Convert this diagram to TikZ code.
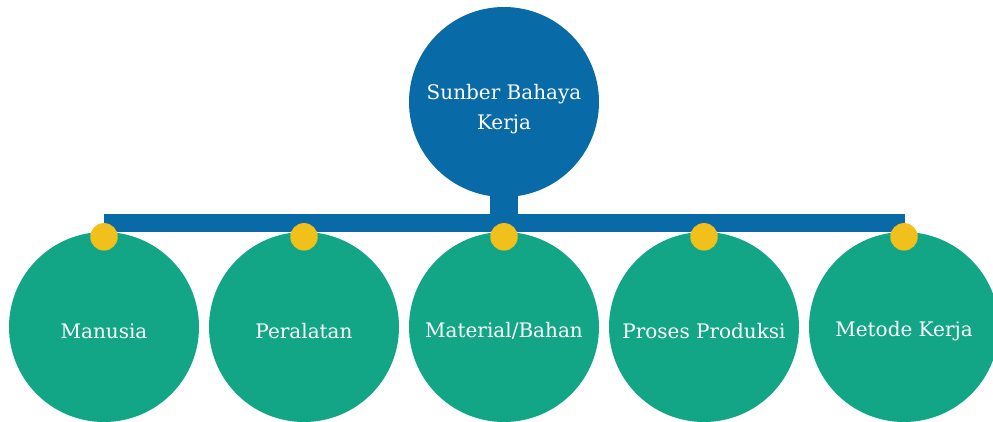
\documentclass[tikz,border=0pt]{standalone}
\usepackage{fontspec}
\setmainfont{DejaVu Serif}
\definecolor{hazardblue}{RGB}{8,106,167}
\definecolor{sourcegreen}{RGB}{18,166,135}
\definecolor{pinyellow}{RGB}{242,192,27}
\tikzset{
  disc/.style={circle, minimum size=190pt, inner sep=0pt},
  hub/.style={disc, fill=hazardblue},
  source/.style={disc, fill=sourcegreen},
  caption/.style={text=white, align=center, inner sep=0pt,
    font=\fontsize{20}{29.5}\selectfont},
  pin/.style={circle, fill=pinyellow, minimum size=27.5pt, inner sep=0pt},
  rail/.style={draw=hazardblue, line width=18pt, line cap=butt},
  stem/.style={draw=hazardblue, line width=28pt, line cap=butt}
}
\begin{document}
\begin{tikzpicture}[x=1pt, y=-1pt]
  \useasboundingbox (0,0) rectangle (993,421);
  \node[hub] (top) at (504,102) {};
  \node[source] (c1) at (104,327) {};
  \node[source] (c2) at (304,327) {};
  \node[source] (c3) at (504,327) {};
  \node[source] (c4) at (704,327) {};
  \node[source] (c5) at (904,327) {};
  % horizontal rail joining the five sources, fed by the hub's stem
  \coordinate (railL) at (104,223);
  \coordinate (railR) at (905,223);
  \draw[rail] (railL) -- (railR);
  \draw[stem] ([yshift=3pt]top.south) -- (top.south |- railL);
  % yellow pins where each source hangs from the rail
  \foreach \i in {1,...,5} {
    \node[pin] (p\i) at ([yshift=-5pt]c\i.north) {};
  }
  % captions
  \node[caption] (toplbl) at ([yshift=-7pt]top.center) {Sunber Bahaya\\Kerja};
  \node[caption] (l1) at ([yshift=-4pt]c1.center) {Manusia};
  \node[caption] (l2) at ([yshift=-4pt]c2.center) {Peralatan};
  \node[caption] (l3) at ([yshift=-4pt]c3.center) {Material/Bahan};
  \node[caption] (l4) at ([yshift=-4pt]c4.center) {Proses Produksi};
  \node[caption] (l5) at ([yshift=-4pt]c5.center) {Metode Kerja};
\end{tikzpicture}
\end{document}
